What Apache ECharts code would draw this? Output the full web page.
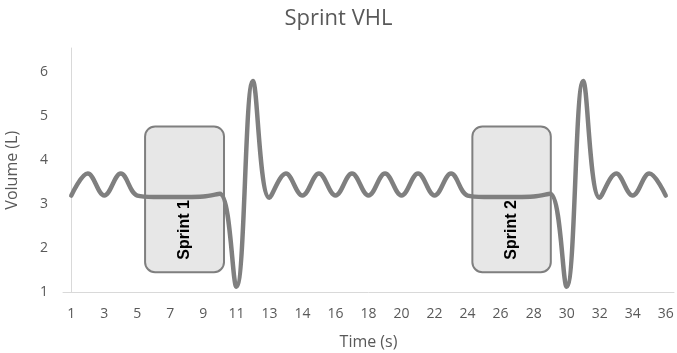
<!DOCTYPE html>
<html>
<head>
<meta charset="utf-8">
<script src="https://cdn.jsdelivr.net/npm/echarts@6/dist/echarts.min.js"></script>
<style>
html,body{margin:0;padding:0;background:#fff;}
#chart{width:677px;height:353px;}
</style>
</head>
<body>
<div id="chart"></div>
<script>
// Category labels (time, s)
const timeLabels = ['1','2','3','4','5','6','7','8','9','10','11','12','13','13.5','14','15','16','17','18','19','20','21','22','23','24','25','26','27','28','29','30','31','32','33','34','35','36'];
// Volume (L)
const volume = [3.2,3.7,3.2,3.7,3.2,3.17,3.17,3.17,3.18,3.24,1.13,5.8,3.15,3.7,3.2,3.7,3.2,3.7,3.2,3.7,3.2,3.7,3.2,3.7,3.2,3.17,3.17,3.17,3.18,3.24,1.13,5.8,3.15,3.7,3.2,3.7,3.2];
// Sprint annotation boxes (in category-index units / volume units)
const sprintNames = ['Sprint 1','Sprint 2'];
const sprintStart = [4.47, 24.29];
const sprintEnd = [9.25, 29.04];
const sprintTop = [4.77, 4.77];
const sprintBottom = [1.46, 1.46];

const boxData = sprintNames.map((n,i)=>[sprintStart[i], sprintEnd[i], sprintTop[i], sprintBottom[i], n]);

const chart = echarts.init(document.getElementById('chart'), null, {renderer:'canvas'});
const textColor = '#595959';
const font = 'Open Sans';

chart.setOption({
  animation: false,
  backgroundColor: '#fff',
  title: {
    text: 'Sprint VHL', left: 'center', top: 3,
    textStyle: {fontFamily: font, fontSize: 22, fontWeight: 'normal', color: textColor}
  },
  grid: {left: 63, right: 3, top: 48, bottom: 60.5, containLabel: false, outerBoundsMode: 'none'},
  xAxis: [{
    type: 'category', data: timeLabels, boundaryGap: true,
    name: 'Time (s)', nameLocation: 'middle', nameGap: 42,
    nameTextStyle: {fontFamily: font, fontSize: 16, color: textColor},
    axisLine: {lineStyle: {color: '#d9d9d9', width: 1}},
    axisTick: {show: false},
    axisLabel: {interval: 1, margin: 15, fontFamily: font, fontSize: 14, color: textColor},
    splitLine: {show: false}
  }, {
    type: 'value', min: -0.5, max: 36.5, show: false
  }],
  yAxis: {
    type: 'value', min: 1, max: 6.55, interval: 1,
    name: 'Volume (L)', nameLocation: 'middle', nameGap: 43,
    nameTextStyle: {fontFamily: font, fontSize: 16, color: textColor},
    axisLine: {show: true, lineStyle: {color: '#d9d9d9', width: 1}},
    axisTick: {show: false},
    axisLabel: {margin: 15, fontFamily: font, fontSize: 14, color: textColor, showMaxLabel: false},
    splitLine: {show: false}
  },
  series: [{
    type: 'custom', xAxisIndex: 1, z: 1, clip: false,
    data: boxData,
    renderItem: function(params, api) {
      const p0 = api.coord([api.value(0), api.value(2)]);
      const p1 = api.coord([api.value(1), api.value(3)]);
      const w = p1[0] - p0[0], h = p1[1] - p0[1];
      const cx = p0[0] + w / 2, cy = p1[1] - h * 0.29;
      return {
        type: 'group',
        children: [{
          type: 'rect',
          shape: {x: p0[0], y: p0[1], width: w, height: h, r: 10},
          style: {fill: '#e7e7e7', stroke: '#7f7f7f', lineWidth: 2}
        }, {
          type: 'text',
          x: cx, y: cy, rotation: Math.PI / 2,
          style: {text: api.value(4), fill: '#000', font: 'bold 16px "Liberation Sans"', align: 'center', verticalAlign: 'middle'}
        }]
      };
    }
  }, {
    type: 'line', data: volume, z: 3,
    smooth: 0.38, symbol: 'none',
    lineStyle: {color: '#7f7f7f', width: 4.5, cap: 'round', join: 'round'}
  }]
});
</script>
</body>
</html>
